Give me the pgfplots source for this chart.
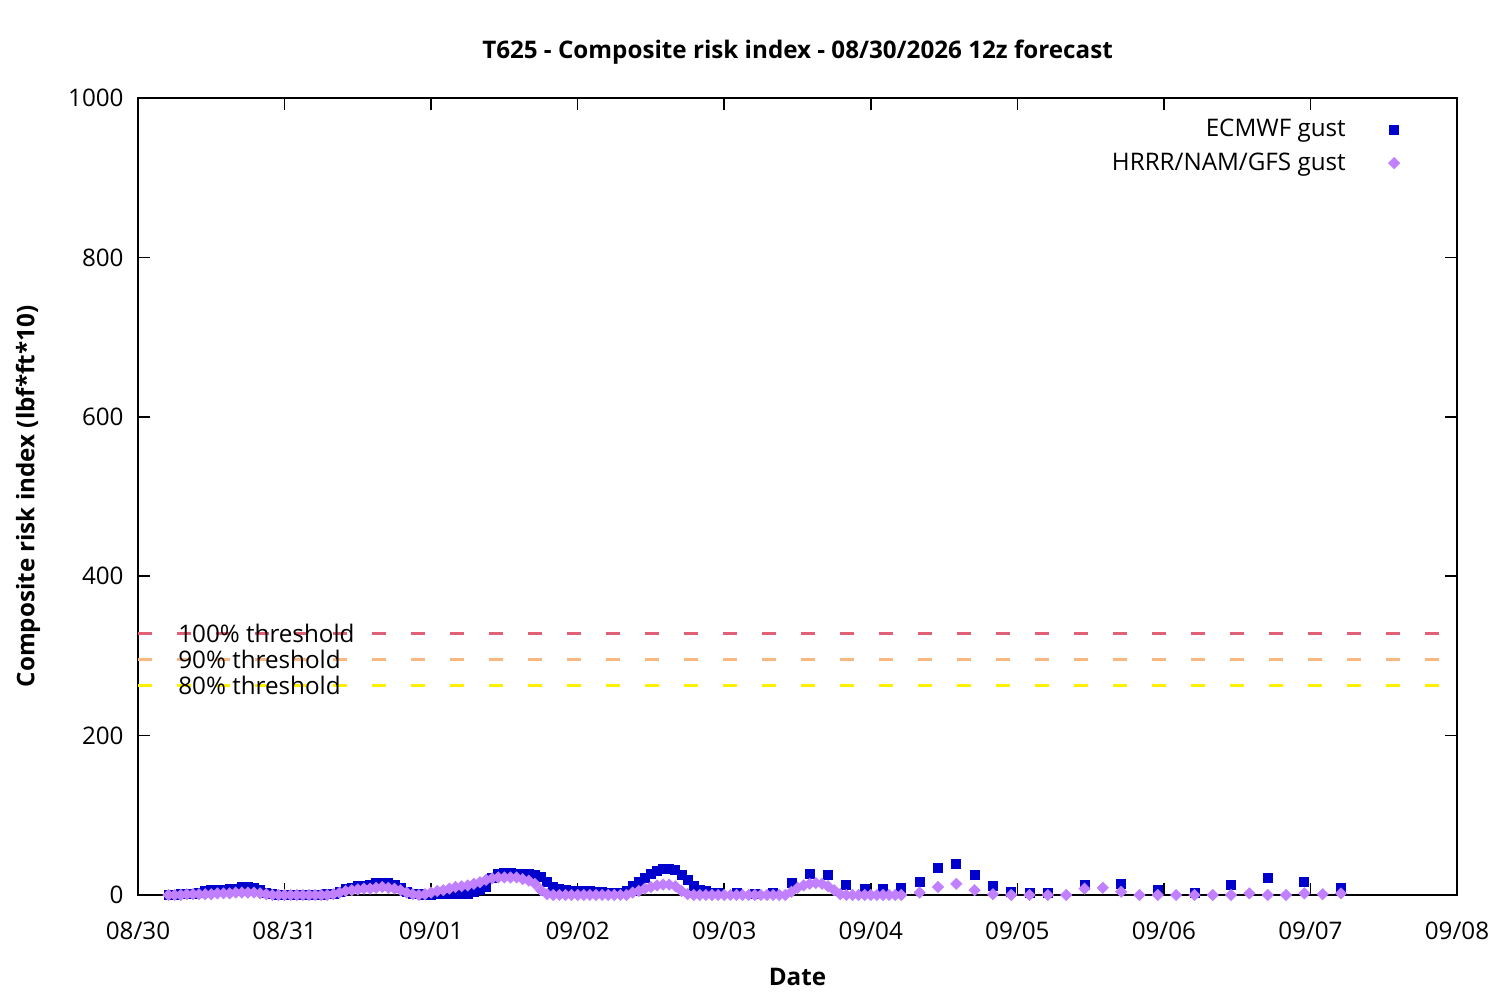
\documentclass[border=0pt]{standalone}
\usepackage{fontspec}
\setmainfont{Open Sans}
\usepackage{pgfplots}
\pgfplotsset{compat=1.18}
\definecolor{ecblue}{RGB}{0,0,204}
\definecolor{gfspurple}{RGB}{192,128,255}
\definecolor{thA}{RGB}{224,96,120}
\definecolor{thB}{RGB}{248,184,128}
\definecolor{thC}{RGB}{255,240,0}
\newcommand{\fs}{\fontsize{12.1bp}{14.5bp}\selectfont}
\begin{document}
\fs
\begin{tikzpicture}
\begin{axis}[
  at={(0,0)}, anchor=south west,
  scale only axis, width=659.5bp, height=398.5bp,
  xmin=0, xmax=216, ymin=0, ymax=1000,
  clip=false,
  xtick={0,24,...,216},
  xticklabels={08/30,08/31,09/01,09/02,09/03,09/04,09/05,09/06,09/07,09/08},
  ytick={0,200,...,1000},
  tick align=inside, major tick length=6bp,
  axis line style={line width=0.75bp},
  every tick/.style={black, line width=0.75bp},
  tick label style={font=\fs},
  xticklabel style={yshift=-9bp},
  yticklabel style={xshift=-3bp},
  /pgf/number format/assume math mode=true,
  /pgf/number format/1000 sep={},
  xlabel={\bfseries Date},
  xlabel style={at={(axis description cs:0.5,-0.1029)}, anchor=center, font=\fs},
  ylabel={\bfseries Composite risk index (lbf*ft*10)},
  ylabel style={at={(axis description cs:-0.0834,0.5)}, anchor=center, font=\fs},
  title={\bfseries T625 - Composite risk index - 08/30/2026 12z forecast},
  title style={at={(axis description cs:0.5,1.0426)}, anchor=center, font=\fs},
  legend style={at={(axis description cs:1,1)}, anchor=north east, xshift=-25.5bp, yshift=-6.5bp,
    draw=none, fill=none, font=\fs,
    row sep=2bp},
  legend cell align=right,
  legend plot pos=right,
  legend image code/.code={\path (0bp,0bp); \draw[#1] plot coordinates {(22bp,0bp)};},
]
\addplot[only marks, mark=square*, mark size=2.25bp, color=ecblue, mark options={draw=none}]
coordinates {
(5,0)(6,0)(7,1)(8,1)(9,2)(10,3)(11,5)(12,6)(13,6)(14,6)(15,8)(16,8)(17,10)(18,10)(19,9)(20,6)
(21,3)(22,1)(23,0)(24,0)(25,0)(26,0)(27,0)(28,0)(29,0)(30,0)(31,1)(32,2)(33,4)(34,8)(35,9)
(36,11)(37,11)(38,13)(39,15)(40,15)(41,15)(42,13)(43,9)(44,4)(45,2)(46,1)(47,0)(48,0)(49,1)
(50,1)(51,1)(52,1)(53,1)(54,2)(55,4)(56,6)(57,10)(58,22)(59,27)(60,28)(61,28)(62,27)(63,26)
(64,26)(65,25)(66,23)(67,17)(68,10)(69,8)(70,7)(71,5)(72,5)(73,5)(74,5)(75,4)(76,4)(77,3)
(78,3)(79,3)(80,5)(81,11)(82,17)(83,22)(84,26)(85,30)(86,33)(87,33)(88,31)(89,25)(90,19)
(91,12)(92,7)(93,5)(94,3)(95,3)
(98,2.5)(101,1.5)(104,2.7)(107,15)(110,27)(113,25)(116,13)(119,8)(122,8)(125,9)(128,17)
(131,34)(134,39)(137,25)(140,12)(143,4)(146,3)(149,3)
(155,13)(161,14)(167,7)(173,3)(179,13)(185,21)(191,17)(197,9)
};
\addlegendentry{ECMWF gust}
\addplot[only marks, mark=square*, mark size=1.95bp, color=gfspurple, mark options={draw=none, rotate=45}]
coordinates {
(5,0)(6,0)(7,0)(8,1)(9,1)(10,1)(11,1)(12,1)(13,2)(14,2)(15,2)(16,3)(17,3)(18,3)(19,3)(20,2)
(21,1)(22,0)(23,0)(24,0)(25,0)(26,0)(27,0)(28,0)(29,0)(30,0)(31,0)(32,1)(33,3)(34,5)(35,6)
(36,7)(37,8)(38,8)(39,9)(40,10)(41,9)(42,8)(43,6)(44,3)(45,1)(46,0)(47,1)(48,3)(49,5)(50,6)
(51,8)(52,10)(53,11)(54,12)(55,14)(56,16)(57,19)(58,21)(59,22)(60,22)(61,22)(62,22)(63,20)
(64,18)(65,14)(66,6)(67,1)(68,0)(69,0)(70,0)(71,0)(72,0)(73,0)(74,0)(75,0)(76,0)(77,0)(78,0)
(79,0)(80,0)(81,3)(82,5)(83,8)(84,10)(85,12)(86,13)(87,13)(88,11)(89,5)(90,1)(91,0)(92,0)
(93,0)(94,0)(95,0)(96,0)(97,0)(98,0)(99,0)(100,0)(101,0)(102,0)(103,0)(104,0)(105,0)(106,0)
(107,4)(108,9)(109,12)(110,14)(111,15)(112,14)(113,11)(114,6)(115,1)(116,0)(117,0)(118,0)
(119,0)(120,0)(121,0)(122,0)(123,0)(124,0)(125,0)
(128,3)(131,10)(134,14)(137,6)(140,1)(143,0)(146,0)(149,0)(152,0)(155,8)(158,9)(161,4)
(164,0)(167,0)(170,0)(173,0)(176,0)(179,0)(182,2)(185,0)(188,0)(191,2)(194,1)(197,2)
};
\addlegendentry{HRRR/NAM/GFS gust}
\addplot[thA, line width=1.5bp, dash pattern=on 7bp off 12.5bp, forget plot] coordinates {(0,328) (216,328)};
\addplot[thB, line width=1.5bp, dash pattern=on 7bp off 12.5bp, forget plot] coordinates {(0,295.2) (216,295.2)};
\addplot[thC, line width=1.5bp, dash pattern=on 7bp off 12.5bp, forget plot] coordinates {(0,262.4) (216,262.4)};
\node[anchor=west, inner sep=0pt, font=\fs] at (axis cs:6.55,328) {100\% threshold};
\node[anchor=west, inner sep=0pt, font=\fs] at (axis cs:6.55,295.2) {90\% threshold};
\node[anchor=west, inner sep=0pt, font=\fs] at (axis cs:6.55,262.4) {80\% threshold};
\end{axis}
\pgfresetboundingbox
\path[use as bounding box] (-69bp,-52.5bp) rectangle (681bp,447.5bp);
\end{tikzpicture}
\end{document}
